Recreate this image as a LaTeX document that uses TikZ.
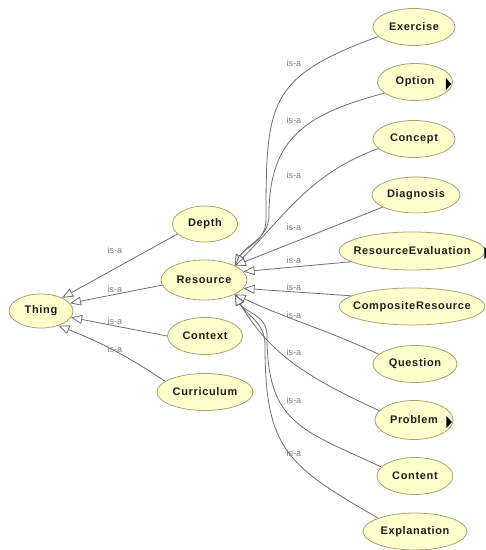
\documentclass[tikz,border=0pt]{standalone}
\usepackage{fontspec}
\setmainfont{Liberation Sans}
\newfontfamily\clsfont[LetterSpace=6]{Liberation Sans}
\usetikzlibrary{shapes.geometric,arrows.meta}
\definecolor{nodefill}{RGB}{255,255,204}
\definecolor{nodeline}{RGB}{170,160,120}
\definecolor{edgecol}{RGB}{110,110,110}
\definecolor{labcol}{RGB}{125,125,125}
\definecolor{txtcol}{RGB}{30,30,30}
\newcommand{\cls}[1]{\makebox[0pt]{\clsfont\bfseries\fontsize{11}{12}\selectfont #1}}
\begin{document}
\begin{tikzpicture}[x=1pt,y=1pt,
  cls/.style={ellipse, draw=nodeline, fill=nodefill, line width=0.8pt, inner sep=0pt, text=txtcol, minimum height=37pt},
  isa/.style={draw=edgecol, line width=0.8pt, -{Triangle[length=11pt,width=9pt,fill=white]}},
  isalab/.style={text=labcol, font=\fontsize{9}{10}\selectfont, inner sep=0pt},
  more/.style={fill=black}]
\useasboundingbox (0,0) rectangle (486,550);
% left part
\node[cls, minimum width=64pt, minimum height=34pt] (thing) at (41,239) {\cls{Thing}};
\node[cls, minimum width=65pt, minimum height=36pt] (depth) at (205,326) {\cls{Depth}};
\node[cls, minimum width=86pt, minimum height=40pt] (resource) at (204,270) {\cls{Resource}};
\node[cls, minimum width=75pt] (context) at (205,214) {\cls{Context}};
\node[cls, minimum width=96pt] (curriculum) at (205,158) {\cls{Curriculum}};
% right column
\node[cls, minimum width=82pt] (exercise) at (414,523) {\cls{Exercise}};
\node[cls, minimum width=75pt] (option) at (415,468) {\cls{Option}};
\node[cls, minimum width=82pt] (concept) at (414,411) {\cls{Concept}};
\node[cls, minimum width=88pt, minimum height=36pt] (diagnosis) at (416,355) {\cls{Diagnosis}};
\node[cls, minimum width=146pt, minimum height=38pt] (resourceevaluation) at (412,299) {\cls{ResourceEvaluation}};
\node[cls, minimum width=146pt] (compositeresource) at (412,243.5) {\cls{CompositeResource}};
\node[cls, minimum width=84pt] (question) at (415,186) {\cls{Question}};
\node[cls, minimum width=78pt, minimum height=39pt] (problem) at (414,130) {\cls{Problem}};
\node[cls, minimum width=76pt] (content) at (415,74) {\cls{Content}};
\node[cls, minimum width=104pt] (explanation) at (415,18.5) {\cls{Explanation}};
% expand markers
\path[more] ([shift={(-7,-8)}]option.east) -- ++(0,12) -- ++(5.5,-6) -- cycle;
\path[more] ([shift={(-7,-8)}]problem.east) -- ++(0,12) -- ++(5.5,-6) -- cycle;
\path[more] ([shift={(-1,-8)}]resourceevaluation.east) -- ++(0,12) -- ++(5.5,-6) -- cycle;
% edges to Thing
\draw[isa] (depth.200) -- (thing.32);
\draw[isa] (resource.187) -- (thing.15);
\draw[isa] (context.180) -- (thing.-12);
\draw[isa] (curriculum.165) to[bend right=6] (thing.-40);
% edges to Resource
\draw[isa] (exercise.195) to[out=200,in=90,looseness=1.4] (266,330) to[out=270,in=62] (resource.25);
\draw[isa] (option.200) to[out=195,in=90,looseness=1.2] (269,335) to[out=270,in=62] (resource.25);
\draw[isa] (concept.195) to[out=200,in=45] (resource.25);
\draw[isa] (diagnosis.200) -- (resource.25);
\draw[isa] (resourceevaluation.190) -- (resource.12);
\draw[isa] (compositeresource.170) -- (resource.-12);
\draw[isa] (question.165) to[out=155,in=-25] (resource.-25);
\draw[isa] (problem.165) to[out=155,in=-60] (resource.-25);
\draw[isa] (content.165) to[out=155,in=270,looseness=1.3] (267,215) to[out=90,in=-62] (resource.-25);
\draw[isa] (explanation.160) to[out=150,in=270,looseness=1.3] (265,205) to[out=90,in=-62] (resource.-25);
% labels
\node[isalab] (l1) at (115,300) {is-a};
\node[isalab] (l2) at (115,261) {is-a};
\node[isalab] (l3) at (115,229) {is-a};
\node[isalab] (l4) at (115,201) {is-a};
\node[isalab] (r1) at (294,487) {is-a};
\node[isalab] (r2) at (294,430) {is-a};
\node[isalab] (r3) at (294,375) {is-a};
\node[isalab] (r4) at (294,323) {is-a};
\node[isalab] (r5) at (294,290) {is-a};
\node[isalab] (r6) at (294,263) {is-a};
\node[isalab] (r7) at (294,235) {is-a};
\node[isalab] (r8) at (294,198) {is-a};
\node[isalab] (r9) at (294,150) {is-a};
\node[isalab] (r10) at (294,97) {is-a};
\end{tikzpicture}
\end{document}
